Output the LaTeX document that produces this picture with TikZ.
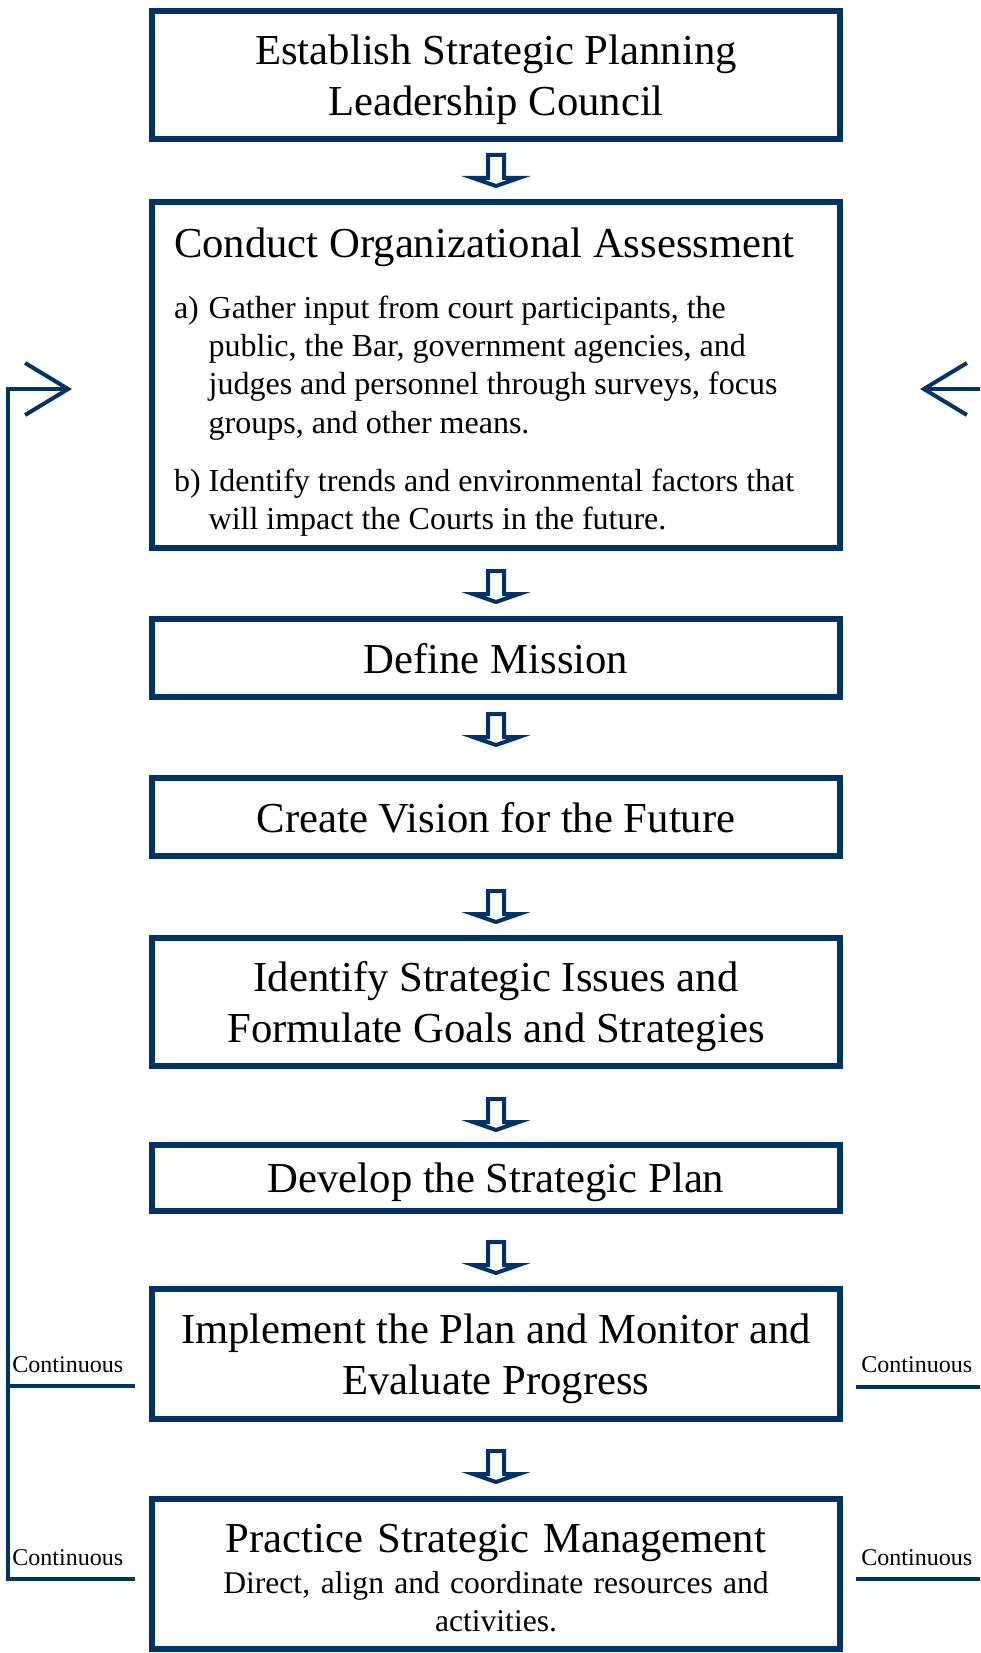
\documentclass[tikz,border=0pt]{standalone}
\usepackage{fontspec}
\setmainfont{Liberation Serif}
\usetikzlibrary{arrows.meta}
\definecolor{courtblue}{RGB}{0,51,102}
\newcommand{\headsize}{\fontsize{21.35pt}{25.3pt}\selectfont}
\newcommand{\bodysize}{\fontsize{16pt}{19.2pt}\selectfont}
\newcommand{\plainspaces}{\spaceskip=0pt\xspaceskip=0pt\relax}

\begin{document}
\begin{tikzpicture}[x=0.5pt,y=-0.5pt,
  stagebox/.style={draw=courtblue, line width=2.85pt, minimum width=344pt,
    inner sep=0pt, align=center, text depth=0pt, font=\headsize},
  boxtext/.style={text width=322pt, inner sep=0pt, font=\headsize},
  contlabel/.style={anchor=base west, inner sep=0pt, font=\fontsize{12pt}{14pt}\selectfont},
  fbline/.style={draw=courtblue, line width=2pt, line join=miter},
  opentip/.style={-{Straight Barb[length=21.5pt,width=26pt]}},
  downarrow/.pic={
    \draw[courtblue, line width=2pt, fill=white, line join=miter]
      (-8,0) -- (8,0) -- (8,23) -- (23,23) -- (0,31) -- (-23,23) -- (-8,23) -- cycle;
  }]
\useasboundingbox (0,0) rectangle (980,1653);

% the steps
\node[stagebox, minimum height=64pt] (council) at (496,75)
  {Establish Strategic Planning\\Leadership Council};
\node[stagebox, minimum height=173pt] (assess) at (496,375) {};
\node[boxtext, align=left] (assesstext) at (496,384.5)
  {\plainspaces Conduct Organizational Assessment\\[5pt]
   \bodysize\begin{tabular}[t]{@{}l@{\ }l@{}}
   a) & Gather input from court participants, the\\
      & public, the Bar, government agencies, and\\
      & judges and personnel through surveys, focus\\
      & groups, and other means.\\[9.8pt]
   b) & Identify trends and environmental factors that\\
      & will impact the Courts in the future.
   \end{tabular}};
\node[stagebox, minimum height=39pt] (mission) at (496,658) {Define Mission};
\node[stagebox, minimum height=39pt] (vision) at (496,817) {Create Vision for the Future};
\node[stagebox, minimum height=64pt] (issues) at (496,1002)
  {Identify Strategic Issues and\\Formulate Goals and Strategies};
\node[stagebox, minimum height=33pt] (plan) at (496,1178) {Develop the Strategic Plan};
\node[stagebox, minimum height=65pt] (implement) at (496,1354)
  {Implement the Plan and Monitor and\\Evaluate Progress};
\node[stagebox, minimum height=75pt] (manage) at (496,1574) {};
\node[boxtext, align=center, anchor=north] (managetext) at (496,1524)
  {\plainspaces Practice Strategic Management\\[1.25pt]
   \fontsize{15.8pt}{19pt}\selectfont Direct, align and coordinate resources and\\activities.\par};

% block arrows between the steps
\pic at (496,155) {downarrow};
\pic at (496,571) {downarrow};
\pic at (496,714) {downarrow};
\pic at (496,891) {downarrow};
\pic at (496,1099) {downarrow};
\pic at (496,1242) {downarrow};
\pic at (496,1451) {downarrow};

% feedback lines
\coordinate (ltop) at (8,389);
\coordinate (ltip) at (72,389);
\coordinate (lmid) at (8,1386);
\coordinate (lcorner) at (8,1579);
\coordinate (lmidend) at (135,1386);
\coordinate (lbotend) at (135,1579);
\coordinate (rtail) at (980,389);
\coordinate (rtip) at (920,389);
\coordinate (rmid) at (856,1387);
\coordinate (rmidend) at (980,1387);
\coordinate (rbot) at (856,1579);
\coordinate (rbotend) at (980,1579);

\draw[fbline, opentip] (lbotend) -- (lcorner) -- (ltop) -- (ltip);
\draw[fbline] (lmid) -- (lmidend);
\draw[fbline, opentip] (rtail) -- (rtip);
\draw[fbline] (rmid) -- (rmidend);
\draw[fbline] (rbot) -- (rbotend);

\node[contlabel] (contlup) at (12,1372) {Continuous};
\node[contlabel] (contldown) at (12,1565) {Continuous};
\node[contlabel] (contrup) at (861,1372) {Continuous};
\node[contlabel] (contrdown) at (861,1565) {Continuous};
\end{tikzpicture}
\end{document}
